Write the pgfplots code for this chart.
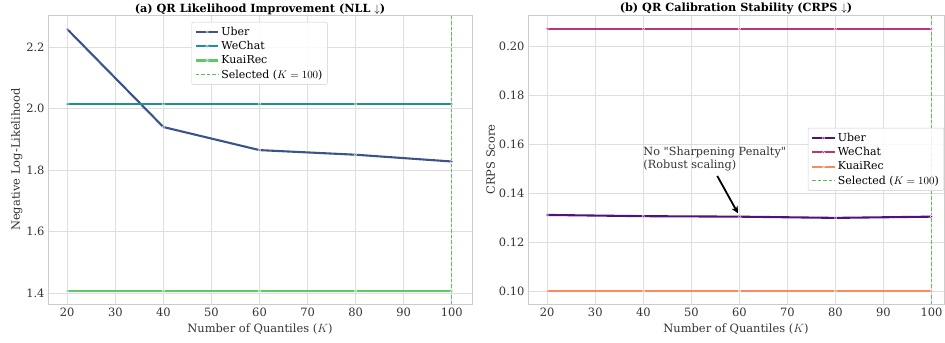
\documentclass[border=0pt]{standalone}
\usepackage{fontspec}
\setmainfont{DejaVu Serif}
\newfontfamily\annfont{DejaVu Serif}[Ligatures=TeXOff]
\usepackage{pgfplots}
\pgfplotsset{compat=1.18}
\usetikzlibrary{arrows.meta}
\definecolor{vUber}{HTML}{3B528B}
\definecolor{vWeChat}{HTML}{21918C}
\definecolor{vKuai}{HTML}{5EC962}
\definecolor{mUber}{HTML}{51127C}
\definecolor{mWeChat}{HTML}{B73779}
\definecolor{mKuai}{HTML}{FC8961}
\definecolor{selgreen}{HTML}{5CC05C}
\definecolor{gridc}{HTML}{DEDEDE}
\definecolor{spinec}{HTML}{CCCCCC}
\definecolor{txt}{HTML}{333333}
\pgfplotsset{
  common/.style={
    scale only axis,
    width=424bp, height=289bp,
    anchor=south west,
    grid=major,
    major grid style={gridc, line width=0.8pt},
    axis line style={spinec, line width=0.8pt},
    tick style={draw=none},
    ticklabel style={font=\fontsize{11.5}{13}\selectfont, text=txt},
    label style={font=\fontsize{11.5}{13}\selectfont, text=txt},
    title style={font=\fontsize{11.3}{13}\selectfont\bfseries, text=black, yshift=-9bp},
    /pgf/number format/assume math mode=true,
    xmin=16, xmax=104.2,
    xtick={20,30,...,100},
    xlabel={Number of Quantiles ($K$)},
    xlabel style={yshift=-1bp},
    legend style={font=\fontsize{11}{12}\selectfont, draw=spinec, fill=white, fill opacity=0.85, text opacity=1, rounded corners=2pt, row sep=0.5pt, inner sep=3pt},
    legend cell align=left,
    legend image code/.code={\draw[mark repeat=2,mark phase=2,##1] plot coordinates {(0cm,0cm) (0.4cm,0cm) (0.8cm,0cm)};},
  },
  ln/.style={color=#1, line width=2.1pt, mark=*, mark size=1.3pt, mark options={solid, draw=white, line width=0.3pt, fill=#1}},
  sel/.style={draw=selgreen, color=selgreen, dash pattern=on 3.5pt off 2pt, line width=1.1pt, no marks},
}
\begin{document}
\begin{tikzpicture}
\useasboundingbox (-48bp,-39bp) rectangle (897bp,304bp);
\begin{axis}[common,
  at={(0bp,0bp)},
  ymin=1.365, ymax=2.304,
  ytick={1.4,1.6,1.8,2.0,2.2},
  yticklabel style={/pgf/number format/fixed, /pgf/number format/fixed zerofill, /pgf/number format/precision=1},
  ylabel={Negative Log-Likelihood},
  ylabel style={yshift=-3bp},
  title={(a) QR Likelihood Improvement (NLL $\downarrow$)},
  legend style={at={(0.499,0.976)}, anchor=north},
]
\addplot[ln=vUber] coordinates {(20,2.258) (40,1.940) (60,1.865) (80,1.850) (100,1.828)};
\addlegendentry{Uber}
\addplot[ln=vWeChat] coordinates {(20,2.015) (40,2.015) (60,2.015) (80,2.015) (100,2.015)};
\addlegendentry{WeChat}
\addplot[ln=vKuai] coordinates {(20,1.407) (40,1.407) (60,1.407) (80,1.407) (100,1.407)};
\addlegendentry{KuaiRec}
\addplot[sel] coordinates {(100,1.365) (100,2.304)};
\addlegendentry{Selected ($K=100$)}
\end{axis}
\begin{axis}[common,
  at={(480bp,0bp)},
  width=416bp, xmax=102.6,
  ymin=0.095, ymax=0.2128,
  ytick={0.10,0.12,0.14,0.16,0.18,0.20},
  yticklabel style={/pgf/number format/fixed, /pgf/number format/fixed zerofill, /pgf/number format/precision=2},
  ylabel={CRPS Score},
  ylabel style={yshift=-3bp},
  title={(b) QR Calibration Stability (CRPS $\downarrow$)},
  legend style={at={(1.0,0.609)}, anchor=north east},
]
\addplot[ln=mUber] coordinates {(20,0.1313) (40,0.1308) (60,0.1306) (80,0.1301) (100,0.1306)};
\addlegendentry{Uber}
\addplot[ln=mWeChat] coordinates {(20,0.2072) (40,0.2072) (60,0.2072) (80,0.2072) (100,0.2072)};
\addlegendentry{WeChat}
\addplot[ln=mKuai] coordinates {(20,0.1003) (40,0.1003) (60,0.1003) (80,0.1003) (100,0.1003)};
\addlegendentry{KuaiRec}
\addplot[sel] coordinates {(100,0.095) (100,0.2128)};
\addlegendentry{Selected ($K=100$)}
\node[anchor=north west, align=left, font=\annfont\fontsize{11.3}{12.5}\selectfont, text=txt, inner sep=0pt] at (axis cs:40,0.1590) {No "Sharpening Penalty"\\(Robust scaling)};
\draw[-{Stealth[length=7pt,width=7pt]}, line width=1.8pt, black] (axis cs:55.4,0.1472) -- (axis cs:59.7,0.1320);
\end{axis}
\end{tikzpicture}
\end{document}
